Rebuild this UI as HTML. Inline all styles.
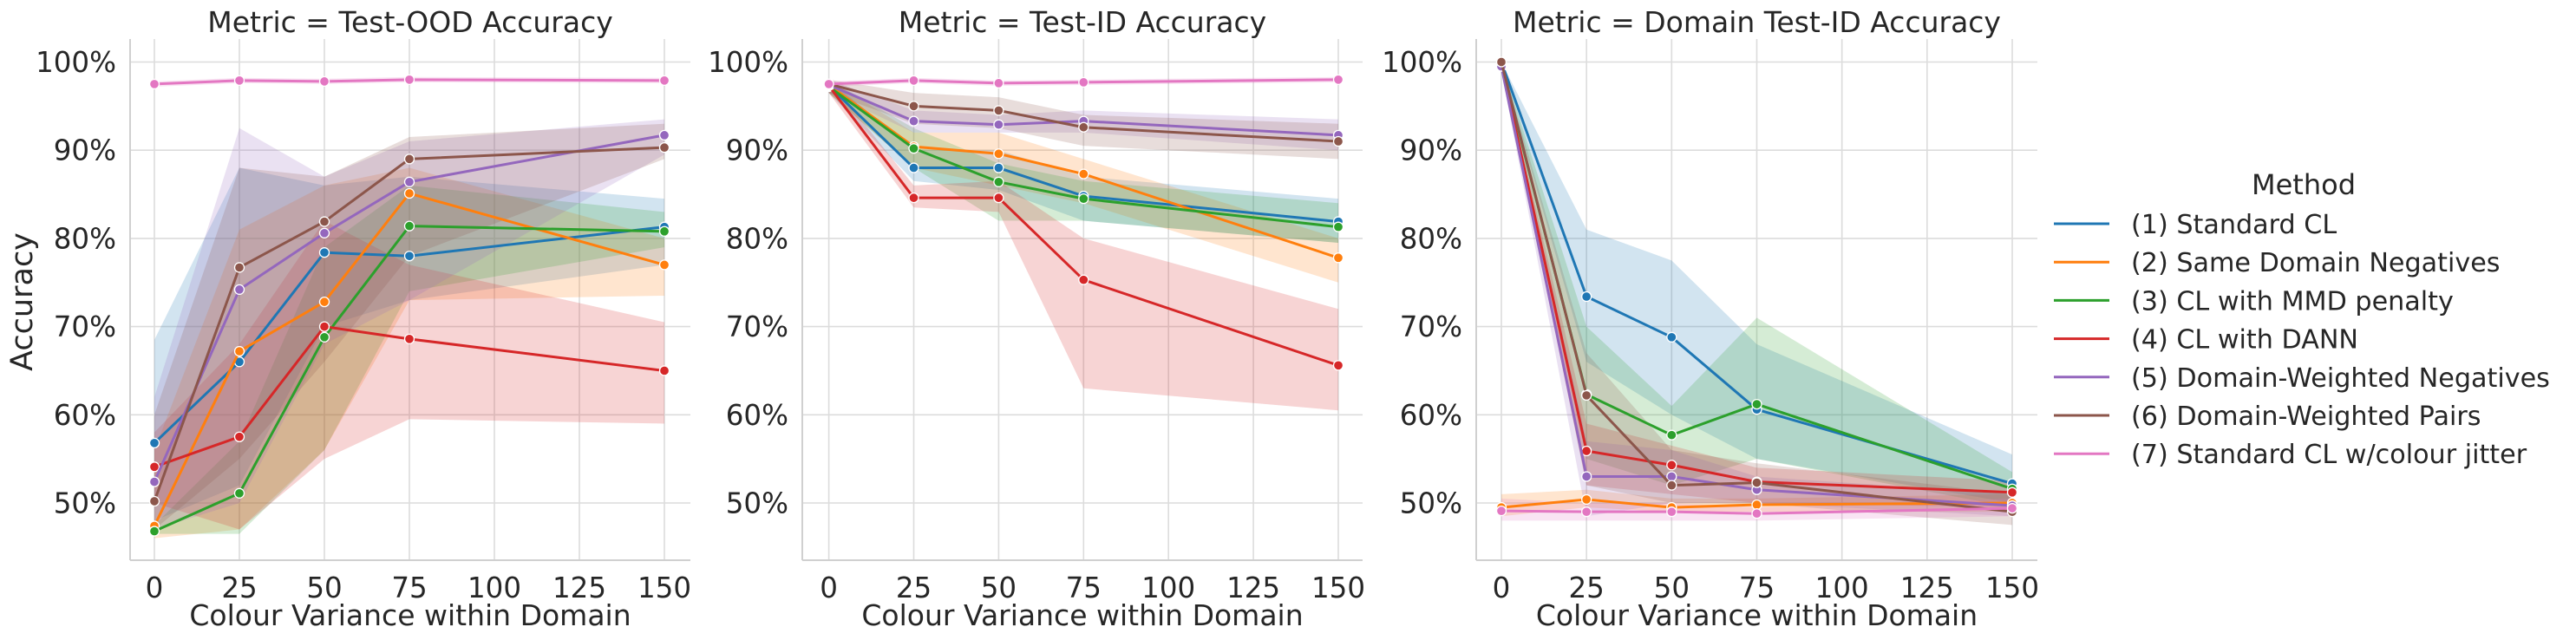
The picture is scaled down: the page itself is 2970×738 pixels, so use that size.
<!DOCTYPE html>
<html><head><meta charset="utf-8">
<style>
html,body{margin:0;padding:0;background:#fff;}
svg{display:block;font-family:"DejaVu Sans","Liberation Sans",sans-serif;}
</style></head>
<body>
<svg id="chart" width="2970" height="738" viewBox="0 0 2970 738" xmlns="http://www.w3.org/2000/svg"></svg>
<script>
const xValues = [0, 25, 50, 75, 150];
const xTicks = [0, 25, 50, 75, 100, 125, 150];
const yTicks = [50, 60, 70, 80, 90, 100];
const yTickLabels = ["50%", "60%", "70%", "80%", "90%", "100%"];
const methods = ["(1) Standard CL","(2) Same Domain Negatives","(3) CL with MMD penalty","(4) CL with DANN","(5) Domain-Weighted Negatives","(6) Domain-Weighted Pairs","(7) Standard CL w/colour jitter"];
const colors = ["#1f77b4","#ff7f0e","#2ca02c","#d62728","#9467bd","#8c564b","#e377c2"];
const panelTitles = ["Metric = Test-OOD Accuracy","Metric = Test-ID Accuracy","Metric = Domain Test-ID Accuracy"];

// Panel 1: Test-OOD
const ood_mean = [
 [56.8,66.0,78.4,78.0,81.3],
 [47.4,67.2,72.8,85.1,77.0],
 [46.8,51.1,68.8,81.4,80.8],
 [54.1,57.5,70.0,68.6,65.0],
 [52.4,74.2,80.6,86.4,91.7],
 [50.2,76.7,81.9,89.0,90.3],
 [97.5,97.9,97.8,98.0,97.9]];
const ood_lo = [
 [48,52,70,73,77],[46,47,56,73,73.5],[46.5,46.5,56,74,79],[50,47,55,59.5,59],
 [47,50,68,73,89.5],[47,55,66,78,89],[97.2,97.6,97.5,97.7,97.6]];
const ood_hi = [
 [68.5,88,86,87,84.5],[56,81,86,88,80],[47.5,57,79,86,83],[58,68,82,77,70.5],
 [62,92.5,87,91,93.5],[60,88,87,91.5,93],[97.8,98.2,98.1,98.3,98.2]];

// Panel 2: Test-ID
const id_mean = [
 [97.3,88.0,88.0,84.8,81.9],
 [97.4,90.4,89.6,87.3,77.8],
 [97.2,90.2,86.4,84.5,81.3],
 [97.3,84.6,84.6,75.3,65.6],
 [97.4,93.3,92.9,93.3,91.7],
 [97.5,95.0,94.5,92.6,91.0],
 [97.5,97.9,97.6,97.7,98.0]];
const id_lo = [
 [96.5,86.5,85.5,82,79.5],[96.5,88,86,84,75],[96.5,88,82,82,79.5],[96.5,83.5,83,63,60.5],
 [96.5,92,92,92,90],[96.5,93,92.5,90.5,89],[97.2,97.6,97.3,97.4,97.7]];
const id_hi = [
 [98,90,90,87,84.5],[98,92,92,89,80],[98,92.5,88.5,86.5,84],[98,86,86.5,80,72],
 [98,94.5,94,94.5,93.5],[98,96.5,96,94,93],[97.8,98.2,97.9,98,98.3]];

// Panel 3: Domain Test-ID
const dom_mean = [
 [100,73.4,68.8,60.6,52.2],
 [49.5,50.4,49.5,49.8,50.0],
 [99.8,62.3,57.7,61.2,51.6],
 [99.7,55.9,54.3,52.4,51.2],
 [99.5,53.0,53.0,51.5,49.7],
 [100,62.2,52.0,52.3,49.0],
 [49.1,49.0,49.0,48.8,49.4]];
const dom_lo = [
 [99.5,66,60,55,50],[48.5,49.5,49,49,49],[99,55,52,55,49.5],[99,52,51,50,49.5],
 [99,48.5,50,50,48.5],[99.5,52,50,50,47.5],[48,48,48,48,48.5]];
const dom_hi = [
 [100,81,77.5,68,55.5],[51,51.5,50.5,50.5,51],[100,70,61,71,53.5],[100,59,56.5,54,52.5],
 [100,57,56,53,51],[100,67,56,54.5,51],[50.5,50,50,49.5,50.5]];

const panelMeans = [ood_mean, id_mean, dom_mean];
const panelLo = [ood_lo, id_lo, dom_lo];
const panelHi = [ood_hi, id_hi, dom_hi];

const NS = "http://www.w3.org/2000/svg";
const svg = document.getElementById("chart");
function mk(tag, attrs, parent){
  const e = document.createElementNS(NS, tag);
  for (const k in attrs) e.setAttribute(k, attrs[k]);
  (parent||svg).appendChild(e);
  return e;
}
const panels = [
 {left:150, right:796, x0:178, x150:766},
 {left:925, right:1571, x0:955.6, x150:1543},
 {left:1702, right:2349, x0:1731, x150:2320}];
const TOP = 45, BOTTOM = 646;
function yScale(v){ return 71.5 + (100 - v) * 10.17; }

panels.forEach((p, pi) => {
  const xScale = v => p.x0 + (v / 150) * (p.x150 - p.x0);
  const g = mk("g", {});
  
  
  xTicks.forEach(t => {
    const l = mk("line", {x1:xScale(t), x2:xScale(t), y1:TOP, y2:BOTTOM, stroke:"#dcdcdc", "stroke-width":1.6}, g);
    
    
    const tx = mk("text", {x:xScale(t), y:689, "text-anchor":"middle", "font-size":32.5, fill:"#262626"}, g);
    tx.textContent = t;
    
    
  });
  yTicks.forEach((t, i) => {
    const l = mk("line", {x1:p.left, x2:p.right, y1:yScale(t), y2:yScale(t), stroke:"#dcdcdc", "stroke-width":1.6}, g);
    
    
    const tx = mk("text", {x:p.left - 16, y:yScale(t) + 11.5, "text-anchor":"end", "font-size":32.5, fill:"#262626"}, g);
    tx.textContent = yTickLabels[i];
    
    
  });
  const sl = mk("line", {x1:p.left, x2:p.left, y1:TOP, y2:BOTTOM, stroke:"#d0d0d0", "stroke-width":2}, g);
  
  
  const sb = mk("line", {x1:p.left, x2:p.right, y1:BOTTOM, y2:BOTTOM, stroke:"#d0d0d0", "stroke-width":2}, g);
  
  
  const tt = mk("text", {x:(p.left+p.right)/2, y:37, "text-anchor":"middle", "font-size":33, fill:"#262626"}, g);
  tt.textContent = panelTitles[pi];
  
  
  const xl = mk("text", {x:(p.left+p.right)/2, y:721, "text-anchor":"middle", "font-size":33, fill:"#262626"}, g);
  xl.textContent = "Colour Variance within Domain";
  
  

  const means = panelMeans[pi], lo = panelLo[pi], hi = panelHi[pi];
  means.forEach((s, si) => {
    let d = "";
    xValues.forEach((x, i) => { d += (i ? "L" : "M") + xScale(x) + "," + yScale(hi[si][i]); });
    for (let i = xValues.length - 1; i >= 0; i--) d += "L" + xScale(xValues[i]) + "," + yScale(lo[si][i]);
    const band = mk("path", {d:d + "Z", fill:colors[si], "fill-opacity":0.2, stroke:"none"}, g);
    
    
  });
  means.forEach((s, si) => {
    const pts = xValues.map((x, i) => xScale(x) + "," + yScale(s[i])).join(" ");
    const line = mk("polyline", {points:pts, fill:"none", stroke:colors[si], "stroke-width":3, "stroke-linejoin":"round"}, g);
    
    
    xValues.forEach((x, i) => {
      const c = mk("circle", {cx:xScale(x), cy:yScale(s[i]), r:5.5, fill:colors[si], stroke:"#fff", "stroke-width":1.3}, g);
      
      
    });
  });
});

const yt = mk("text", {x:0, y:0, "text-anchor":"middle", "font-size":35, fill:"#262626", transform:"translate(37,348) rotate(-90)"});
yt.textContent = "Accuracy";



const lg = mk("g", {});


const lt = mk("text", {x:2656, y:224, "text-anchor":"middle", "font-size":32, fill:"#262626"}, lg);
lt.textContent = "Method";


methods.forEach((m, i) => {
  const y = 258 + i * 44.2;
  const l = mk("line", {x1:2368, x2:2432, y1:y, y2:y, stroke:colors[i], "stroke-width":3}, lg);
  
  
  const t = mk("text", {x:2457, y:y + 11, "font-size":30.2, fill:"#262626"}, lg);
  t.textContent = m;
  
  
});
</script>
</body></html>
